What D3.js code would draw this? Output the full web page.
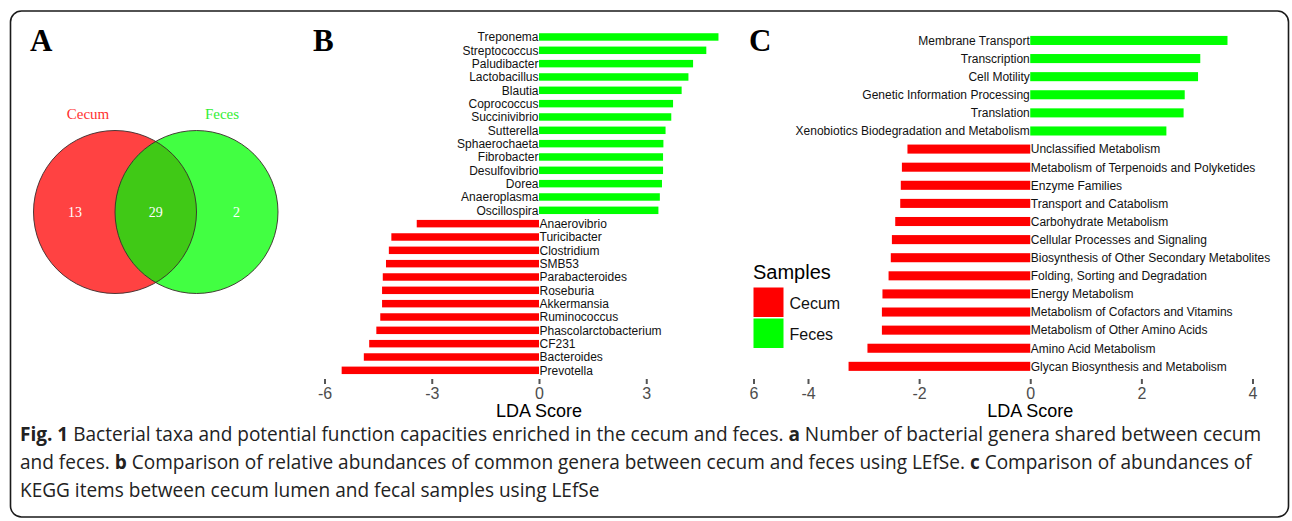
<!DOCTYPE html>
<html><head><meta charset="utf-8">
<script src="https://cdn.jsdelivr.net/npm/d3@7"></script>
<style>body{margin:0;background:#fff}svg{display:block}</style>
</head><body>
<svg id="fig" width="1292" height="521"></svg>
<script>
// ---------- DATA ----------
const vennSets = ["Cecum", "Feces"];
const vennCounts = [13, 29, 2]; // cecum only, shared, feces only

const genera = ["Treponema","Streptococcus","Paludibacter","Lactobacillus","Blautia","Coprococcus","Succinivibrio","Sutterella","Sphaerochaeta","Fibrobacter","Desulfovibrio","Dorea","Anaeroplasma","Oscillospira","Anaerovibrio","Turicibacter","Clostridium","SMB53","Parabacteroides","Roseburia","Akkermansia","Ruminococcus","Phascolarctobacterium","CF231","Bacteroides","Prevotella"];
const generaLDA = [5.02,4.68,4.31,4.18,3.99,3.75,3.70,3.54,3.48,3.47,3.47,3.44,3.38,3.34,-3.42,-4.13,-4.20,-4.28,-4.37,-4.39,-4.39,-4.44,-4.55,-4.75,-4.90,-5.52];

const kegg = ["Membrane Transport","Transcription","Cell Motility","Genetic Information Processing","Translation","Xenobiotics Biodegradation and Metabolism","Unclassified Metabolism","Metabolism of Terpenoids and Polyketides","Enzyme Families","Transport and Catabolism","Carbohydrate Metabolism","Cellular Processes and Signaling","Biosynthesis of Other Secondary Metabolites","Folding, Sorting and Degradation","Energy Metabolism","Metabolism of Cofactors and Vitamins","Metabolism of Other Amino Acids","Amino Acid Metabolism","Glycan Biosynthesis and Metabolism"];
const keggLDA = [3.55,3.06,3.02,2.78,2.76,2.45,-2.21,-2.31,-2.33,-2.34,-2.43,-2.49,-2.51,-2.55,-2.66,-2.67,-2.67,-2.93,-3.27];

const bTicks = [-6,-3,0,3,6];
const cTicks = [-4,-2,0,2,4];
const legendGroups = ["Cecum","Feces"];
const groupColors = ["#ff0000","#00ff00"];

const captionLines = [
  [["Fig. 1",true],[" Bacterial taxa and potential function capacities enriched in the cecum and feces. ",false],["a",true],[" Number of bacterial genera shared between cecum",false]],
  [["and feces. ",false],["b",true],[" Comparison of relative abundances of common genera between cecum and feces using LEfSe. ",false],["c",true],[" Comparison of abundances of",false]],
  [["KEGG items between cecum lumen and fecal samples using LEfSe",false]]
];

// ---------- DRAW ----------
const svg = d3.select("#fig");
const sans = "'Liberation Sans', Arial, sans-serif";
const serif = "'Liberation Serif', 'Times New Roman', serif";

svg.append("rect").attr("x",10.5).attr("y",11).attr("width",1278).attr("height",506)
  .attr("rx",11).attr("fill","none").attr("stroke","#1a1a1a").attr("stroke-width",1.6);

// panel letters
[["A",30],["B",313],["C",749]].forEach(([t,x])=>{
  svg.append("text").attr("x",x).attr("y",51).text(t)
    .attr("font-family",serif).attr("font-weight","bold").attr("font-size",31).attr("fill","#000");
});

// ---------- Panel A: Venn ----------
const vx = d3.scaleLinear().domain([0,1]).range([115,196.5]);
const vr = 81.5, vcy = 212;
const vg = svg.append("g");
const defs = svg.append("defs");
defs.append("clipPath").attr("id","clipL").append("circle").attr("cx",vx(0)).attr("cy",vcy).attr("r",vr);
vg.append("circle").attr("cx",vx(0)).attr("cy",vcy).attr("r",vr).attr("fill","#ff4242");
vg.append("circle").attr("cx",vx(1)).attr("cy",vcy).attr("r",vr).attr("fill","#42ff42");
vg.append("circle").attr("cx",vx(1)).attr("cy",vcy).attr("r",vr).attr("fill","#40c916").attr("clip-path","url(#clipL)");
[0,1].forEach(i=>vg.append("circle").attr("cx",vx(i)).attr("cy",vcy).attr("r",vr)
  .attr("fill","none").attr("stroke","#3a2a2a").attr("stroke-width",0.9));
const setLabelX = [88,222];
vennSets.forEach((s,i)=>{
  vg.append("text").attr("x",setLabelX[i]).attr("y",119).attr("text-anchor","middle")
    .attr("font-family",serif).attr("font-size",15).attr("fill",i==0?"#ff3030":"#33ee33").text(s);
});
const numX = [vx(0)-40, (vx(0)+vx(1))/2, vx(1)+40];
vennCounts.forEach((n,i)=>{
  vg.append("text").attr("x",numX[i]).attr("y",vcy+5).attr("text-anchor","middle")
    .attr("font-family",serif).attr("font-size",14).attr("fill","#fff").text(n);
});

// ---------- bar panels ----------
function barPanel(cats, vals, xDomain, xRange, yRange, pad, ticks){
  const g = svg.append("g");
  const x = d3.scaleLinear().domain(xDomain).range(xRange);
  const y = d3.scaleBand().domain(cats).range(yRange).paddingInner(pad).paddingOuter(pad/2);
  const data = cats.map((c,i)=>({c,v:vals[i]}));
  g.selectAll("rect.bar").data(data).join("rect").attr("class","bar")
    .attr("x",d=>x(Math.min(0,d.v))).attr("width",d=>Math.abs(x(d.v)-x(0)))
    .attr("y",d=>y(d.c)).attr("height",y.bandwidth())
    .attr("fill",d=>d.v<0?groupColors[0]:groupColors[1]);
  g.selectAll("text.lab").data(data).join("text").attr("class","lab")
    .attr("x",d=>d.v<0?x(0)+0.5:x(0)-0.5)
    .attr("y",d=>y(d.c)+y.bandwidth()/2).attr("dy","0.36em")
    .attr("text-anchor",d=>d.v<0?"start":"end")
    .attr("font-family",sans).attr("font-size",12).attr("fill","#111").text(d=>d.c);
  const axisY = 379;
  const ax = g.append("g").attr("transform",`translate(0,${axisY})`)
    .call(d3.axisBottom(x).tickValues(ticks).tickSize(5).tickPadding(4)
      .tickFormat(d=>d<0?"-"+Math.abs(d):String(d)));
  ax.select(".domain").remove();
  ax.selectAll(".tick line").attr("stroke","#555").attr("stroke-width",2);
  ax.selectAll(".tick text").attr("font-family",sans).attr("font-size",16).attr("fill","#4d4d4d");
  g.append("text").attr("x",x(0)).attr("y",417).attr("text-anchor","middle")
    .attr("font-family",sans).attr("font-size",18).attr("fill","#000").text("LDA Score");
  return {x,y};
}

barPanel(genera, generaLDA, [-6,6], [324.5,753.5], [30.3,377], 0.44, bTicks);
barPanel(kegg, keggLDA, [-4,4], [808,1252.5], [31.4,375.4], 0.5, cTicks);

// legend
const lg = svg.append("g");
lg.append("text").attr("x",753).attr("y",279).attr("font-family",sans).attr("font-size",20).attr("fill","#000").text("Samples");
legendGroups.forEach((s,i)=>{
  lg.append("rect").attr("x",753.5).attr("y",287.5+i*31).attr("width",30).attr("height",29.5).attr("fill",groupColors[i]);
  lg.append("text").attr("x",789.5).attr("y",303+i*31).attr("dy","0.36em")
    .attr("font-family",sans).attr("font-size",16).attr("fill","#111").text(s);
});

// caption
const capFont = "'Open Sans', 'Noto Sans', sans-serif";
const capY = [441, 469, 497];
let fs = 17;
function drawCaption(size){
  svg.selectAll("text.cap").remove();
  captionLines.forEach((parts,li)=>{
    const t = svg.append("text").attr("class","cap").attr("x",20).attr("y",capY[li])
      .attr("font-family",capFont).attr("font-size",size).attr("fill","#222");
    parts.forEach(([s,b])=>t.append("tspan").attr("font-weight",b?"bold":"normal").text(s));
  });
}
drawCaption(fs);
const w1 = svg.select("text.cap").node().getComputedTextLength();
fs = fs * 1242 / w1;
drawCaption(fs);
</script>
</body></html>
